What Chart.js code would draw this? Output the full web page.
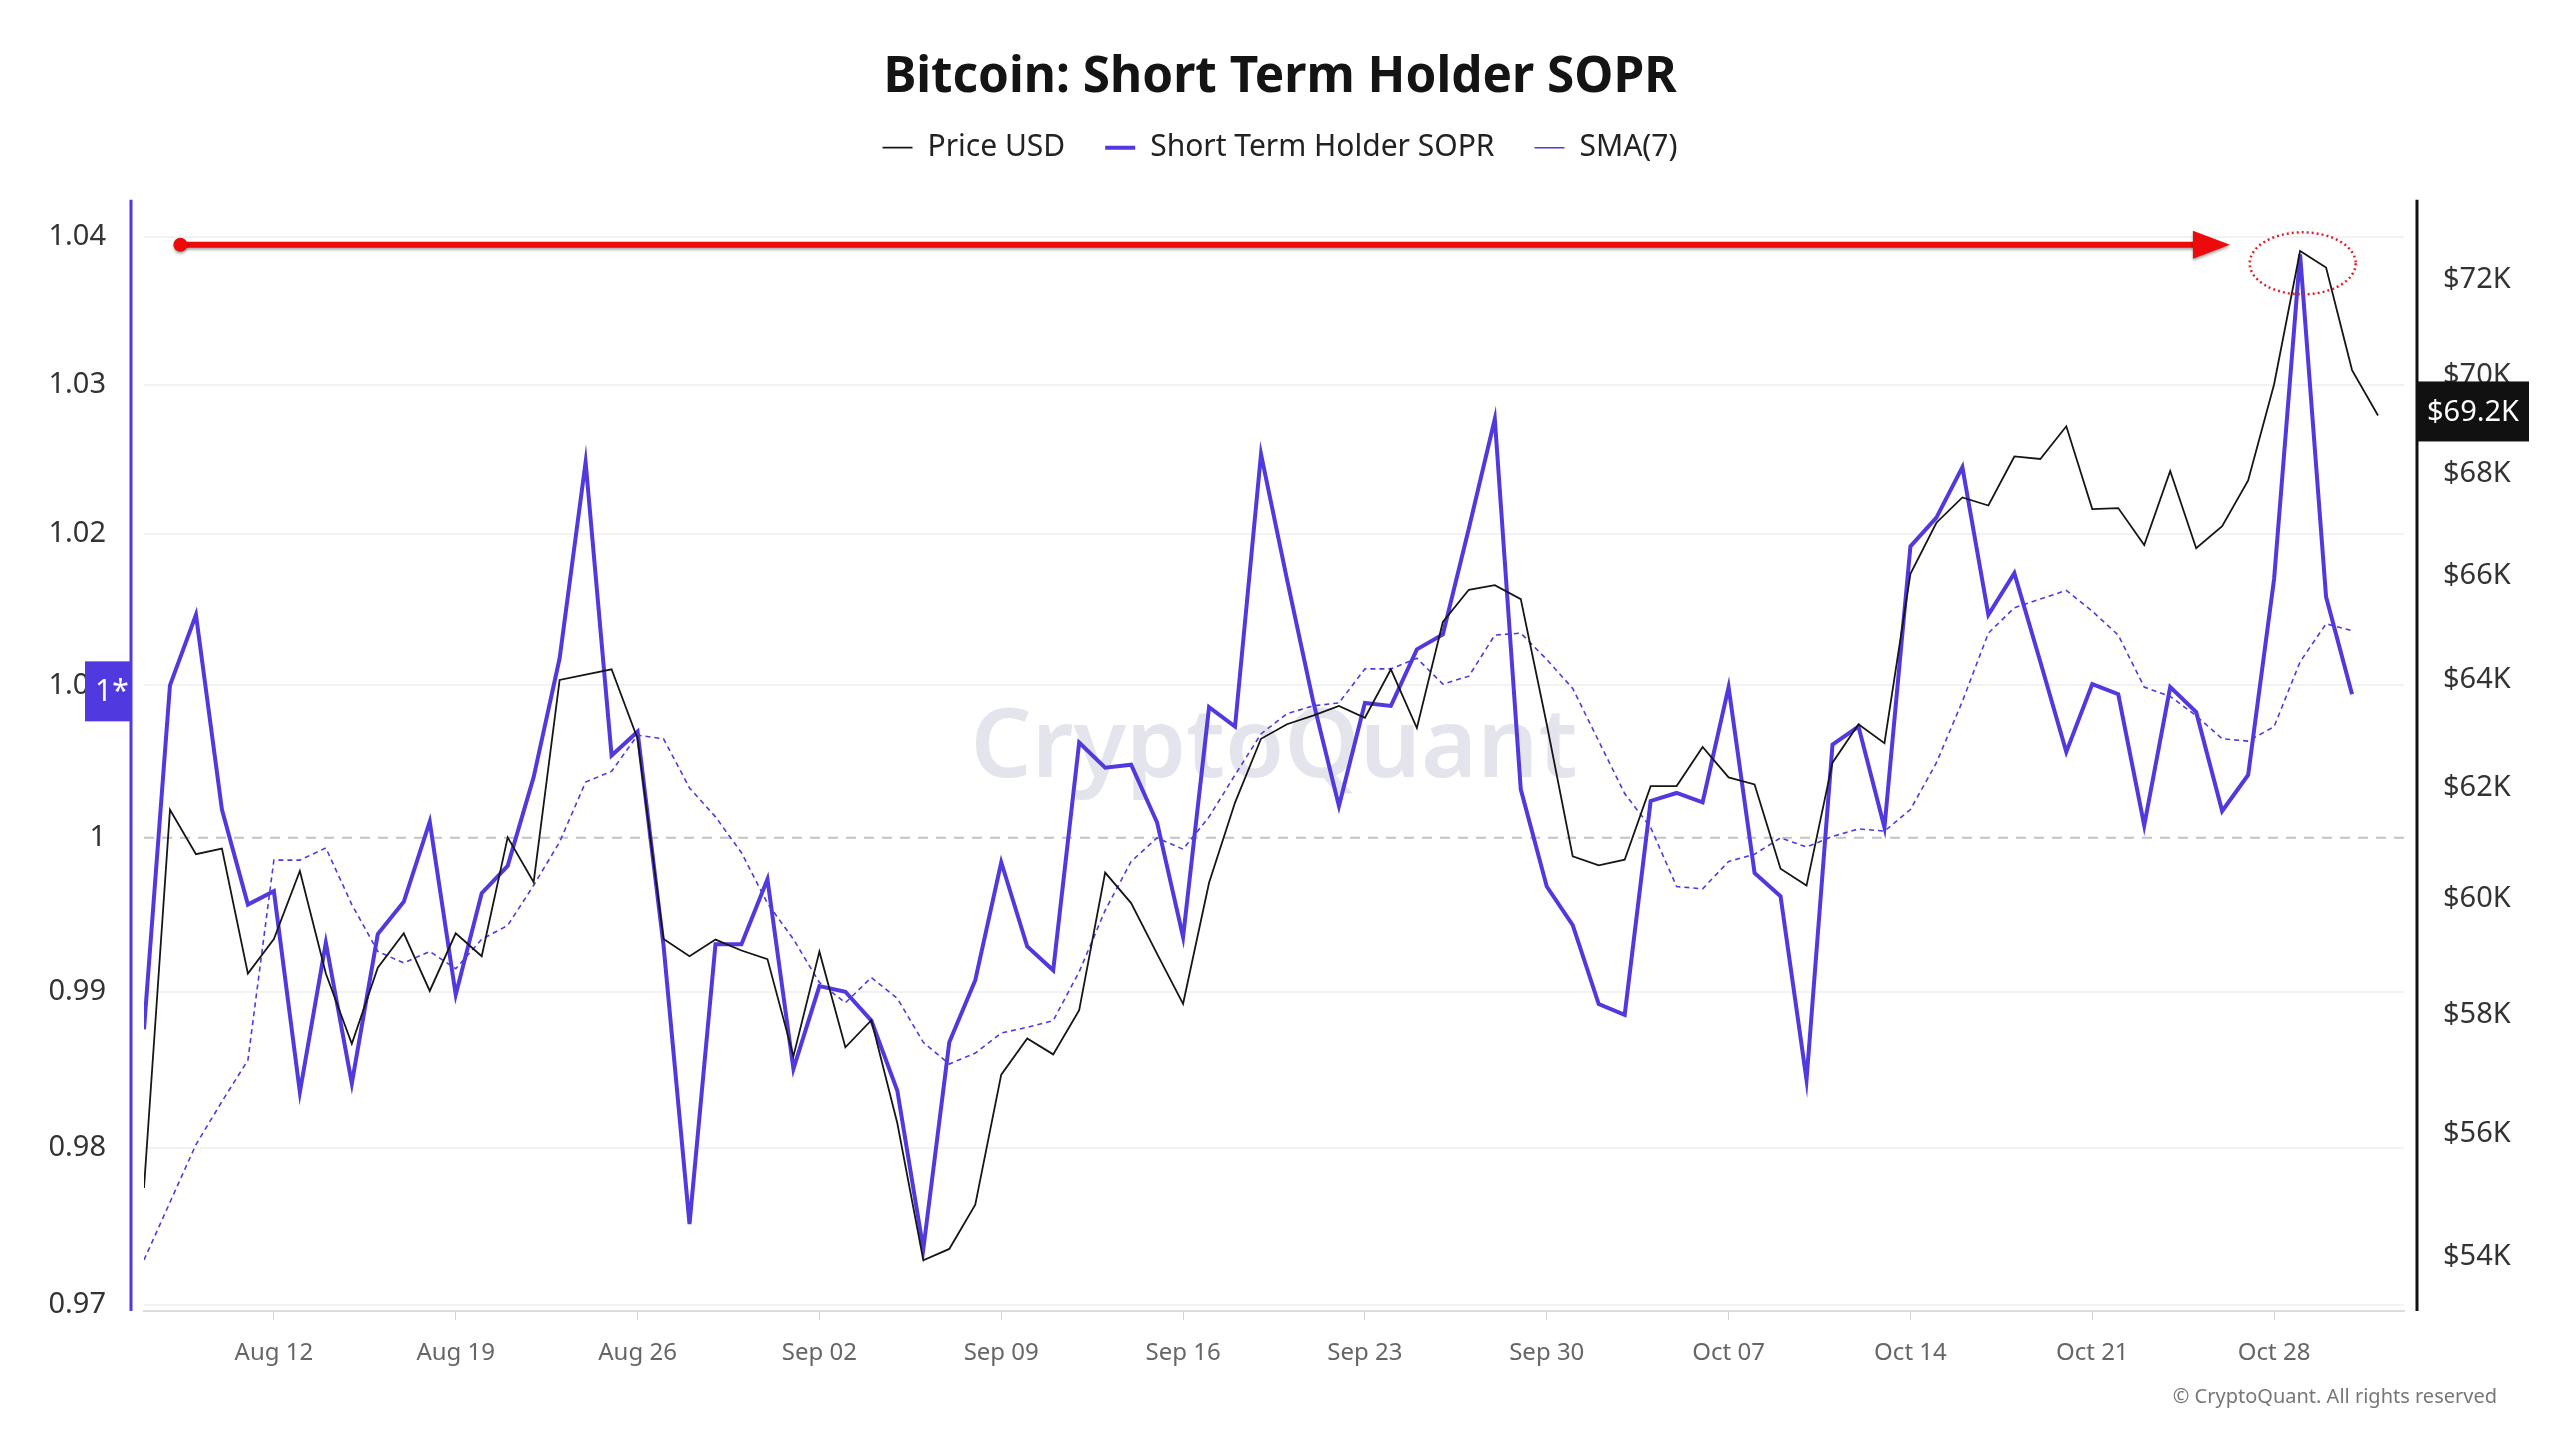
<!DOCTYPE html>
<html>
<head>
<meta charset="utf-8">
<title>Bitcoin: Short Term Holder SOPR</title>
<script src="https://cdn.jsdelivr.net/npm/chart.js@4.4.1/dist/chart.umd.min.js"></script>
<style>
  html, body { margin: 0; padding: 0; background: #fff; }
  #wrap { width: 2560px; height: 1440px; position: relative; }
</style>
</head>
<body>
<div id="wrap"><canvas id="sopr"></canvas></div>
<script>
// x = days since Aug 07 2024
const tickDays = [5, 12, 19, 26, 33, 40, 47, 54, 61, 68, 75, 82];
const tickLabels = ['Aug 12', 'Aug 19', 'Aug 26', 'Sep 02', 'Sep 09', 'Sep 16', 'Sep 23', 'Sep 30', 'Oct 07', 'Oct 14', 'Oct 21', 'Oct 28'];

const soprTicks = [0.97, 0.98, 0.99, 1, 1.01, 1.02, 1.03, 1.04];
const soprTickLabels = ['0.97', '0.98', '0.99', '1', '1.01', '1.02', '1.03', '1.04'];
const priceTicks = [54000, 56000, 58000, 60000, 62000, 64000, 66000, 68000, 70000, 72000];
const priceTickLabels = ['$54K', '$56K', '$58K', '$60K', '$62K', '$64K', '$66K', '$68K', '$70K', '$72K'];

const priceUsd = [
  55110, 61600, 60800, 60900, 58700, 59300, 60500, 58700, 57500, 58800,
  59400, 58400, 59400, 59000, 61100, 60300, 64000, 64100, 64200, 62900,
  59300, 59000, 59290, 59100, 58950, 57290, 59080, 57440, 57900, 56170,
  53950, 54130, 54840, 56980, 57590, 57320, 58070, 60470, 59930, 59040,
  58180, 60290, 61730, 62900, 63170, 63330, 63510, 63290, 64200, 63100,
  65100, 65720, 65810, 65540, 63170, 60760, 60600, 60700, 62030, 62030,
  62750, 62190, 62060, 60540, 60240, 62460, 63170, 62820, 66030, 67030,
  67530, 67370, 68350, 68300, 68960, 67300, 67320, 66590, 68060, 66530,
  66960, 67870, 69820, 72610, 72260, 70110, 69180
];

const sopr = [
  0.98759, 1.00999, 1.01465, 1.00185, 0.99566, 0.99653, 0.98355, 0.99318, 0.98411, 0.99374,
  0.99584, 1.00105, 0.98982, 0.99640, 0.99817, 1.00397, 1.01178, 1.02481, 1.00539, 1.00695,
  0.99300, 0.97513, 0.99309, 0.99309, 0.99730, 0.98504, 0.99038, 0.99001, 0.98815, 0.98364,
  0.97353, 0.98675, 0.99076, 0.99841, 0.99294, 0.99140, 1.00624, 1.00459, 1.00478, 1.00100,
  0.99355, 1.00856, 1.00728, 1.02534, 1.01700, 1.00900, 1.00208, 1.00884, 1.00864, 1.01237,
  1.01336, 1.02038, 1.02770, 1.00317, 0.99683, 0.99433, 0.98922, 0.98852, 1.00241, 1.00293,
  1.00232, 1.00988, 0.99771, 0.99620, 0.98434, 1.00610, 1.00728, 1.00067, 1.01919, 1.02111,
  1.02447, 1.01465, 1.01741, 1.01155, 1.00562, 1.01008, 1.00941, 1.00081, 1.00988, 1.00823,
  1.00175, 1.00411, 1.01704, 1.03878, 1.01584, 1.00941
];

const sma7 = [
  0.97284, 0.97651, 0.98019, 0.98295, 0.98560, 0.99855, 0.99855, 0.99934, 0.99566, 0.99262,
  0.99187, 0.99262, 0.99150, 0.99341, 0.99430, 0.99691, 0.99973, 1.00364, 1.00435, 1.00672,
  1.00648, 1.00326, 1.00137, 0.99903, 0.99574, 0.99341, 0.99061, 0.98930, 0.99093, 0.98958,
  0.98675, 0.98536, 0.98606, 0.98735, 0.98772, 0.98815, 0.99130, 0.99528, 0.99846, 1.00000,
  0.99926, 1.00137, 1.00411, 1.00680, 1.00813, 1.00864, 1.00884, 1.01108, 1.01108, 1.01178,
  1.01008, 1.01060, 1.01331, 1.01344, 1.01170, 1.00979, 1.00633, 1.00289, 1.00067, 0.99683,
  0.99668, 0.99846, 0.99893, 1.00000, 0.99940, 1.00009, 1.00058, 1.00044, 1.00185, 1.00491,
  1.00894, 1.01344, 1.01512, 1.01570, 1.01627, 1.01489, 1.01331, 1.00988, 1.00927, 1.00799,
  1.00648, 1.00633, 1.00728, 1.01155, 1.01406, 1.01360
];

const FONT = '"Noto Sans", "Open Sans", sans-serif';
const BLUE = '#5139e0';
const lastPriceLabel = '$69.2K';

Chart.defaults.font.family = FONT;
Chart.defaults.color = '#333';

const toPoints = (arr) => arr.map((v, i) => ({ x: i, y: v }));

// push the plot area down a bit below the legend
const legendSpacer = {
    id: 'legendSpacer',
    beforeInit(chart) {
        const fit = chart.legend.fit;
        chart.legend.fit = function () {
            fit.call(this);
            this.height += 27;
        };
    }
};

const decor = {
    id: 'decor',
    beforeDatasetsDraw(chart) {
        const { ctx, chartArea } = chart;
        const ys = chart.scales.ySopr;
        ctx.save();
        // watermark
        ctx.font = `600 96px ${FONT}`;
        ctx.fillStyle = 'rgba(205, 205, 220, 0.55)';
        ctx.textAlign = 'center';
        ctx.textBaseline = 'middle';
        ctx.fillText('CryptoQuant', (chartArea.left + chartArea.right) / 2, (chartArea.top + chartArea.bottom) / 2 - 6);
        // 1.0 reference line
        const y1 = ys.getPixelForValue(1);
        ctx.strokeStyle = '#c2c2ca';
        ctx.lineWidth = 2;
        ctx.setLineDash([10, 8]);
        ctx.beginPath();
        ctx.moveTo(chartArea.left, y1);
        ctx.lineTo(chartArea.right, y1);
        ctx.stroke();
        ctx.restore();
    },
    afterDatasetsDraw(chart) {
        const { ctx } = chart;
        const xs = chart.scales.x;
        const ys = chart.scales.ySopr;
        ctx.save();
        // red arrow towards the new high
        const ay = ys.getPixelForValue(1.03944);
        const ax0 = xs.getPixelForValue(1.4);
        const ax1 = xs.getPixelForValue(80.3);
        ctx.shadowColor = 'rgba(0, 0, 0, 0.35)';
        ctx.shadowBlur = 3;
        ctx.shadowOffsetY = 2;
        ctx.fillStyle = '#ec0a0a';
        ctx.strokeStyle = '#ec0a0a';
        ctx.lineWidth = 6;
        ctx.beginPath();
        ctx.moveTo(ax0, ay);
        ctx.lineTo(ax1 - 34, ay);
        ctx.stroke();
        ctx.beginPath();
        ctx.arc(ax0, ay, 7, 0, Math.PI * 2);
        ctx.fill();
        ctx.beginPath();
        ctx.moveTo(ax1, ay);
        ctx.lineTo(ax1 - 37, ay - 14);
        ctx.lineTo(ax1 - 37, ay + 14);
        ctx.closePath();
        ctx.fill();
        ctx.restore();

        // dotted ring round the peak
        ctx.save();
        ctx.strokeStyle = '#e0202a';
        ctx.lineWidth = 2.5;
        ctx.setLineDash([2, 3]);
        ctx.beginPath();
        ctx.ellipse(xs.getPixelForValue(83.1), ys.getPixelForValue(1.03818), 53, 31, 0, 0, Math.PI * 2);
        ctx.stroke();
        ctx.restore();
    },
    afterDraw(chart) {
        const { ctx, chartArea } = chart;
        const ys = chart.scales.ySopr;
        const yp = chart.scales.yPrice;
        ctx.save();
        // axis lines sit a little outside the plot
        ctx.lineWidth = 3;
        ctx.strokeStyle = BLUE;
        ctx.beginPath();
        ctx.moveTo(chartArea.left - 13, chartArea.top);
        ctx.lineTo(chartArea.left - 13, chartArea.bottom);
        ctx.stroke();
        ctx.strokeStyle = '#111';
        ctx.beginPath();
        ctx.moveTo(chartArea.right + 13, chartArea.top);
        ctx.lineTo(chartArea.right + 13, chartArea.bottom);
        ctx.stroke();

        // "1*" badge on the left axis
        const by = ys.getPixelForValue(1.0096);
        const bx1 = chartArea.left - 13;
        ctx.fillStyle = BLUE;
        ctx.fillRect(bx1 - 46, by - 30, 46, 60);
        ctx.fillStyle = '#fff';
        ctx.font = `30px ${FONT}`;
        ctx.textAlign = 'left';
        ctx.textBaseline = 'middle';
        ctx.fillText('1*', bx1 - 36, by + 1);

        // last price tag on the right axis
        const py = yp.getPixelForValue(priceUsd[priceUsd.length - 1]) - 4;
        const px0 = chartArea.right + 13;
        ctx.fillStyle = '#111';
        ctx.fillRect(px0, py - 30, 112, 60);
        ctx.fillStyle = '#fff';
        ctx.font = `29px ${FONT}`;
        ctx.textAlign = 'center';
        ctx.fillText(lastPriceLabel, px0 + 56, py + 1);

        // footer
        ctx.fillStyle = '#777';
        ctx.font = `20px ${FONT}`;
        ctx.textAlign = 'right';
        ctx.fillText('\u00A9 CryptoQuant. All rights reserved', 2497, 1397);
        ctx.restore();
    }
};

new Chart(document.getElementById('sopr'), {
    type: 'line',
    data: {
        datasets: [{
                label: 'Price USD',
                data: toPoints(priceUsd),
                yAxisID: 'yPrice',
                borderColor: '#161616',
                backgroundColor: '#161616',
                borderWidth: 1.8,
                pointRadius: 0
            }, {
                label: 'Short Term Holder SOPR',
                data: toPoints(sopr),
                yAxisID: 'ySopr',
                borderColor: BLUE,
                backgroundColor: BLUE,
                borderWidth: 4,
                pointRadius: 0
            }, {
                label: 'SMA(7)',
                data: toPoints(sma7),
                yAxisID: 'ySopr',
                borderColor: BLUE,
                backgroundColor: BLUE,
                borderWidth: 1.6,
                borderDash: [5, 4],
                pointRadius: 0
            }]
    },
    options: {
        responsive: true,
        maintainAspectRatio: false,
        animation: false,
        events: [],
        plugins: {
            title: {
                display: true,
                text: 'Bitcoin: Short Term Holder SOPR',
                color: '#141414',
                font: { size: 49.5, weight: 'bold' },
                padding: { top: 48, bottom: -14.7 }
            },
            legend: {
                labels: {
                    usePointStyle: true,
                    pointStyle: 'line',
                    pointStyleWidth: 30,
                    padding: 40,
                    color: '#222',
                    font: { size: 30 }
                }
            },
            tooltip: { enabled: false }
        },
        scales: {
            x: {
                type: 'linear',
                min: 0,
                max: 87,
                afterBuildTicks: (axis) => { axis.ticks = tickDays.map(v => ({ value: v })); },
                afterFit: (axis) => { axis.height = 129; },
                grid: { drawOnChartArea: false, drawTicks: true, tickLength: 9, tickColor: '#d4d4d8' },
                border: { color: '#dcdce0', width: 2 },
                ticks: {
                    autoSkip: false,
                    maxRotation: 0,
                    padding: 19,
                    color: '#666',
                    font: { size: 24 },
                    callback: (value) => tickLabels[tickDays.indexOf(value)] ?? ''
                }
            },
            ySopr: {
                type: 'logarithmic',
                position: 'left',
                min: 0.96961,
                max: 1.0425,
                afterBuildTicks: (axis) => { axis.ticks = soprTicks.map(v => ({ value: v })); },
                afterFit: (axis) => { axis.width = 144; },
                grid: {
                    drawTicks: false,
                    lineWidth: 2,
                    color: (c) => (c.tick && c.tick.value === 1 ? 'rgba(0,0,0,0)' : '#f2f2f4')
                },
                border: { display: false },
                ticks: {
                    autoSkip: false,
                    padding: 38,
                    color: '#333',
                    font: { size: 29 },
                    callback: (value) => soprTickLabels[soprTicks.indexOf(value)] ?? ''
                }
            },
            yPrice: {
                type: 'logarithmic',
                position: 'right',
                min: 53150,
                max: 73716,
                afterBuildTicks: (axis) => { axis.ticks = priceTicks.map(v => ({ value: v })); },
                afterFit: (axis) => { axis.width = 156; },
                grid: { drawOnChartArea: false, drawTicks: false },
                border: { display: false },
                ticks: {
                    autoSkip: false,
                    padding: 39,
                    color: '#333',
                    font: { size: 29 },
                    callback: (value) => priceTickLabels[priceTicks.indexOf(value)] ?? ''
                }
            }
        }
    },
    plugins: [legendSpacer, decor]
});
</script>
</body>
</html>
